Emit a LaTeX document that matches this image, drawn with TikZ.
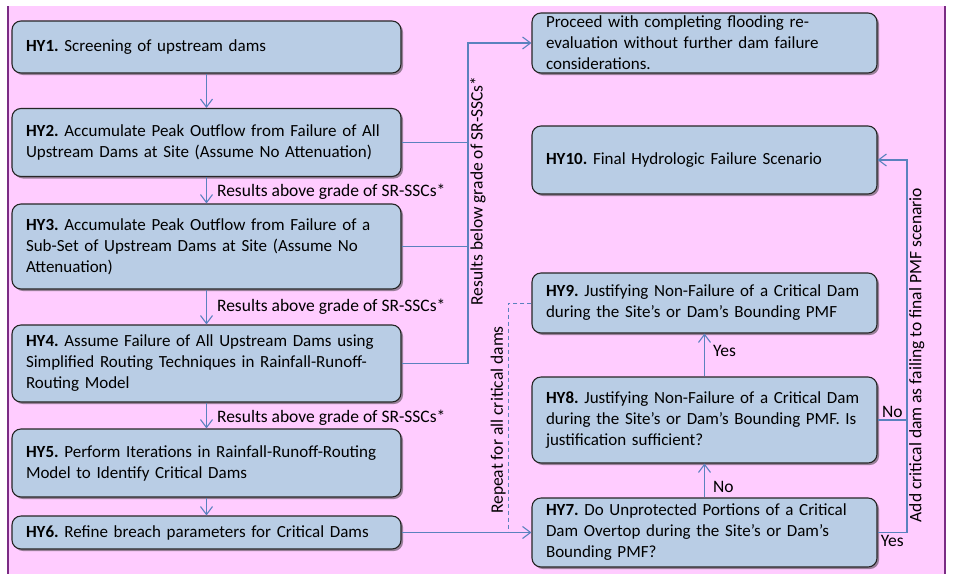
\documentclass[tikz,border=0pt]{standalone}
\usepackage{fontspec}
\setmainfont{Carlito}
\usetikzlibrary{arrows.meta,shadows}
\definecolor{bgpink}{HTML}{FFCCFF}
\definecolor{edgepurple}{HTML}{7B2C84}
\definecolor{boxfill}{HTML}{B9CDE5}
\definecolor{boxline}{HTML}{262626}
\definecolor{connc}{HTML}{5A82BE}
\frenchspacing
\begin{document}
\begin{tikzpicture}[x=1pt,y=-1pt,
  box/.style={draw=boxline, line width=1.1pt, fill=boxfill, rounded corners=9pt,
    align=left, inner xsep=14pt, inner ysep=0pt,
    font=\fontsize{17}{21}\selectfont,
    drop shadow={shadow xshift=2pt, shadow yshift=-2pt, opacity=0.5, fill=black!80}},
  lbox/.style={box, text width=361pt},
  rbox/.style={box, text width=317pt},
  conn/.style={draw=connc, line width=1.1pt},
  arr/.style={conn, -{Straight Barb[length=8pt,width=12pt]}},
  dashconn/.style={draw=connc, line width=1pt, dash pattern=on 4pt off 3pt},
  lbl/.style={font=\fontsize{17.5}{21}\selectfont, inner sep=2pt},
]
\useasboundingbox (0,0) rectangle (974,574);
\fill[bgpink] (8,6) rectangle (945,574);
\draw[edgepurple, line width=1.2pt] (8,6) -- (8,574) (945,6) -- (945,574);

% left column
\node[lbox, minimum height=52pt] (hy1) at (206.5,47) {\textbf{HY1.} Screening of upstream dams};
\node[lbox, minimum height=68pt] (hy2) at (206.5,142.5) {\mbox{\textbf{HY2.} Accumulate Peak Outflow from Failure of All}\\\mbox{Upstream Dams at Site (Assume No Attenuation)}};
\node[lbox, minimum height=85pt] (hy3) at (206.5,246.5) {\mbox{\textbf{HY3.} Accumulate Peak Outflow from Failure of a}\\\mbox{Sub-Set of Upstream Dams at Site (Assume No}\\Attenuation)};
\node[lbox, minimum height=77pt] (hy4) at (206.5,363.5) {\mbox{\textbf{HY4.} Assume Failure of All Upstream Dams using}\\\mbox{Simplified Routing Techniques in Rainfall-Runoff-}\\Routing Model};
\node[lbox, minimum height=68pt] (hy5) at (206.5,463) {\mbox{\textbf{HY5.} Perform Iterations in Rainfall-Runoff-Routing}\\Model to Identify Critical Dams};
\node[lbox, minimum height=33pt] (hy6) at (206.5,532.5) {\textbf{HY6.} Refine breach parameters for Critical Dams};

% right column
\node[rbox, minimum height=60pt] (proceed) at (704.5,43) {\mbox{Proceed with completing flooding re-}\\\mbox{evaluation without further dam failure}\\considerations.};
\node[rbox, minimum height=68pt] (hy10) at (704.5,160) {\textbf{HY10.} Final Hydrologic Failure Scenario};
\node[rbox, minimum height=60pt] (hy9) at (704.5,303) {\mbox{\textbf{HY9.} Justifying Non-Failure of a Critical Dam}\\\mbox{during the Site’s or Dam’s Bounding PMF}};
\node[rbox, minimum height=86pt] (hy8) at (704.5,420) {\mbox{\textbf{HY8.} Justifying Non-Failure of a Critical Dam}\\\mbox{during the Site’s or Dam’s Bounding PMF. Is}\\justification sufficient?};
\node[rbox, minimum height=69pt] (hy7) at (704.5,532.5) {\mbox{\textbf{HY7.} Do Unprotected Portions of a Critical}\\\mbox{Dam Overtop during the Site’s or Dam’s}\\Bounding PMF?};

% left column arrows
\draw[arr] (hy1.south) -- (hy2.north);
\draw[arr] (hy2.south) -- node[lbl, anchor=west, xshift=8pt, yshift=-2pt] (la1) {Results above grade of SR-SSCs*} (hy3.north);
\draw[arr] (hy3.south) -- node[lbl, anchor=west, xshift=8pt] (la2) {Results above grade of SR-SSCs*} (hy4.north);
\draw[arr] (hy4.south) -- node[lbl, anchor=west, xshift=8pt, yshift=-2pt] (la3) {Results above grade of SR-SSCs*} (hy5.north);
\draw[arr] (hy5.south) -- (hy6.north);

% results below bracket
\coordinate (bx) at (468,43);
\draw[conn] (hy2.east) -- (hy2.east -| bx);
\draw[conn] (hy3.east) -- (hy3.east -| bx);
\draw[arr] (hy4.east) -- (hy4.east -| bx) -- (bx) -- (proceed.west);
\node[lbl, rotate=90, anchor=north] (lbelow) at (468,191) {Results below grade of SR-SSCs*};

% HY6 to HY7
\draw[arr] (hy6.east) -- (hy7.west);

% repeat dashed
\coordinate (dx) at (508,532.5);
\draw[dashconn] (hy9.west) -- (hy9.west -| dx) -- (dx);
\node[lbl, rotate=90, anchor=south] (lrepeat) at (508,420) {Repeat for all critical dams};

% HY7 -> HY8 -> HY9
\draw[arr] (hy7.north) -- node[lbl, anchor=west, pos=0.3, xshift=6pt] (lno1) {No} (hy8.south);
\draw[arr] (hy8.north) -- node[lbl, anchor=west, pos=0.6, xshift=6pt] (lyes1) {Yes} (hy9.south);

% right return
\coordinate (rx) at (907,160);
\draw[conn] (hy8.east) -- node[lbl, above] (lno2) {No} (hy8.east -| rx);
\draw[arr] (hy7.east) -- node[lbl, below] (lyes2) {Yes} (hy7.east -| rx) -- (rx) -- (hy10.east);
\node[lbl, rotate=90, anchor=north] (ladd) at (907,355) {Add critical dam as failing to final PMF scenario};
\end{tikzpicture}
\end{document}
